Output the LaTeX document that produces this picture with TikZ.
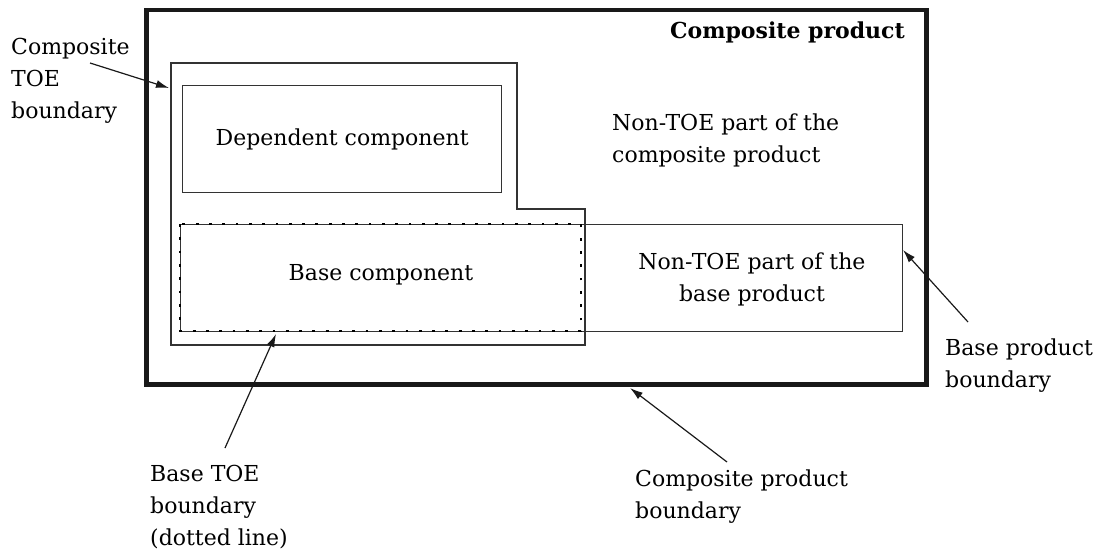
\documentclass[tikz,border=0pt]{standalone}
\usepackage{fontspec}
\setmainfont{DejaVu Serif}
\usetikzlibrary{arrows.meta}
\begin{document}
\begin{tikzpicture}[x=1pt,y=-1pt,
  lbl/.style={font=\fontsize{22}{32}\selectfont, align=left, inner sep=0pt, anchor=north west},
  boxtxt/.style={font=\fontsize{22}{32}\selectfont, align=center, inner sep=0pt},
  thinline/.style={draw=black!80, line width=1.3pt},
  outerline/.style={draw=black!90, line width=4.5pt},
  dotline/.style={draw=black, line width=2.8pt, dash pattern=on 2.8pt off 10.5pt},
  pointer/.style={draw=black!90, line width=1.2pt, -{Latex[length=13pt,width=8pt]}}]
\useasboundingbox (0,0) rectangle (1097,551);

% outer composite product boundary
\node[outerline, inner sep=0pt, minimum width=780pt, minimum height=374pt, anchor=north west] (outer) at (144,8) {};
\node[font=\bfseries\fontsize{22}{26}\selectfont, inner sep=0pt, anchor=north east] (cptitle) at (905,22) {Composite product};

% composite TOE boundary (L-shaped)
\draw[thinline] (171,63) coordinate (ctoeNW) -- (517,63) -- (517,209) -- (585,209) -- (585,345) -- (171,345) -- cycle;

% dependent component
\node[thinline, inner sep=0pt, minimum width=319pt, minimum height=107pt, anchor=north west] (dep) at (182,85) {};
\node[boxtxt] (deptxt) at (dep.center) {Dependent component};

% base product boundary
\node[thinline, inner sep=0pt, minimum width=722pt, minimum height=107pt, anchor=north west] (baseprod) at (180,224) {};
% base TOE (dotted)
\draw[dotline] (180,224) rectangle (581,331);
\coordinate (baseTOE) at (276,334);
\node[boxtxt] (basetxt) at (381,275) {Base component};
\node[boxtxt] (nontoebase) at (752,279) {Non-TOE part of the\\base product};

\node[lbl] (nontoecomp) at (612,114) {Non-TOE part of the\\composite product};

% external labels
\node[lbl] (ctoelbl) at (11,38) {Composite\\TOE\\boundary};
\node[lbl] (btoelbl) at (150,465) {Base TOE\\boundary\\(dotted line)};
\node[lbl] (cplbl) at (635,470) {Composite product\\boundary};
\node[lbl] (bplbl) at (945,339) {Base product\\boundary};

\coordinate (ctoeTip) at (169,88);
\coordinate (ctoeStart) at (90,63);
\coordinate (bpTip) at (903,250);
\coordinate (bpStart) at (968,322);
\coordinate (cpTip) at (630,388);
\coordinate (cpStart) at (727,462);
\coordinate (btoeStart) at (225,448);

\draw[pointer] (ctoeStart) -- (ctoeTip);
\draw[pointer] (bpStart) -- (bpTip);
\draw[pointer] (cpStart) -- (cpTip);
\draw[pointer] (btoeStart) -- (baseTOE);
\end{tikzpicture}
\end{document}
